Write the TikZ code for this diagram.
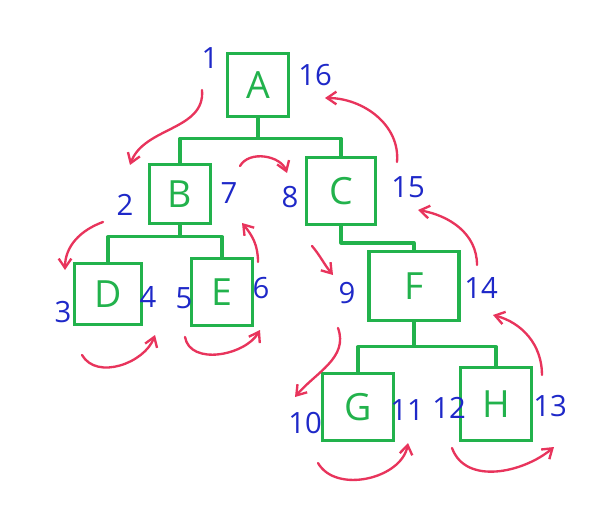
\documentclass[tikz,border=0pt]{standalone}
\usepackage{fontspec}
\setmainfont{Open Sans}
\usepackage{xcolor}
\usetikzlibrary{arrows.meta}

\definecolor{treegreen}{RGB}{34,178,76}
\definecolor{numblue}{RGB}{30,40,200}
\definecolor{tourred}{RGB}{232,52,92}

\begin{document}
\begin{tikzpicture}[
    x=0.03cm, y=0.03cm,
    >={Straight Barb[length=2.8mm, width=3.8mm]},
    box/.style={draw=treegreen, line width=2.8pt, minimum width=1.85cm,
                minimum height=1.85cm, inner sep=0pt, text=treegreen,
                font=\fontsize{32}{32}\selectfont},
    link/.style={draw=treegreen, line width=2.8pt, line join=round},
    num/.style={text=numblue, inner sep=0pt, font=\fontsize{25}{25}\selectfont},
    tour/.style={->, draw=tourred, line width=2pt, line cap=round}
]
\useasboundingbox (0,0) rectangle (600,-515);

% --- Tree nodes ---
\node[box, minimum height=1.9cm] (A) at (258,-85)  {A};
\node[box, minimum height=1.75cm] (B) at (180,-194) {B};
\node[box, minimum width=2.05cm, minimum height=2cm] (C) at (341,-191) {C};
\node[box, minimum width=2cm]   (D) at (108,-294) {D};
\node[box, minimum height=2cm]  (E) at (222,-292) {E};
\node[box, minimum width=2.7cm, minimum height=2.05cm] (F) at (414,-286) {F};
\node[box, minimum width=2.15cm, minimum height=2cm] (G) at (358,-407) {G};
\node[box, minimum width=2.15cm, minimum height=2.2cm] (H) at (496,-404) {H};

% --- Parent-child links ---
\draw[link] (A.south) -- ++(0,-20) coordinate (jA);
\draw[link] (B.north) |- (jA) -| (C.north);
\draw[link] (B.south) -- ++(0,-12) coordinate (jB);
\draw[link] (D.north) |- (jB) -| (E.north);
\draw[link] (C.south) -- ++(0,-17) coordinate (jC) -| (F.north);
\draw[link] (F.south) -- ++(0,-25) coordinate (jF);
\draw[link] (G.north) |- (jF) -| (H.north);

% --- Visit numbers ---
\node[num] (n1)  at (210,-58)  {1};
\node[num] (n2)  at (125,-205) {2};
\node[num] (n3)  at (63,-312)  {3};
\node[num] (n4)  at (148,-297) {4};
\node[num] (n5)  at (184,-298) {5};
\node[num] (n6)  at (261,-288) {6};
\node[num] (n7)  at (229,-193) {7};
\node[num] (n8)  at (290,-197) {8};
\node[num] (n9)  at (347,-293) {9};
\node[num] (n10) at (305,-423) {10};
\node[num] (n11) at (407,-410) {11};
\node[num] (n12) at (449,-408) {12};
\node[num] (n13) at (550,-406) {13};
\node[num] (n14) at (481,-288) {14};
\node[num] (n15) at (408,-187) {15};
\node[num] (n16) at (315,-75)  {16};

% --- Traversal arrows ---
\draw[tour] ([shift={(-8,-32)}]n1.center)  to[out=-85, in=70]   ([shift={(5,40)}]n2.center);
\draw[tour] ([shift={(-22,-17)}]n2.center) to[out=200, in=90]   ([shift={(2,42)}]n3.center);
\draw[tour] ([shift={(19,-43)}]n3.center)  to[out=-60, in=-110] ([shift={(7,-38)}]n4.center);
\draw[tour] ([shift={(1,-39)}]n5.center)   to[out=-80, in=-120] ([shift={(-1,-42)}]n6.center);
\draw[tour] ([shift={(-3,26)}]n6.center)   to[out=90, in=-50]   ([shift={(13,-30)}]n7.center);
\draw[tour] ([shift={(11,27)}]n7.center)   to[out=60, in=110]   ([shift={(-3,24)}]n8.center);
\draw[tour] ([shift={(22,-49)}]n8.center)  to[out=-50, in=130]  ([shift={(-14,18)}]n9.center);
\draw[tour] ([shift={(-9,-35)}]n9.center)  to[out=-70, in=50]   ([shift={(-10,26)}]n10.center);
\draw[tour] ([shift={(13,-40)}]n10.center) to[out=-60, in=-100] ([shift={(1,-33)}]n11.center);
\draw[tour] ([shift={(3,-40)}]n12.center)  to[out=-70, in=-140] ([shift={(4,-41)}]n13.center);
\draw[tour] ([shift={(-8,31)}]n13.center)  to[out=90, in=-15]   ([shift={(12,-27)}]n14.center);
\draw[tour] ([shift={(-4,23)}]n14.center)  to[out=90, in=-10]   ([shift={(10,-23)}]n15.center);
\draw[tour] ([shift={(-11,25)}]n15.center) to[out=85, in=0]     ([shift={(10,-23)}]n16.center);

\end{tikzpicture}
\end{document}
